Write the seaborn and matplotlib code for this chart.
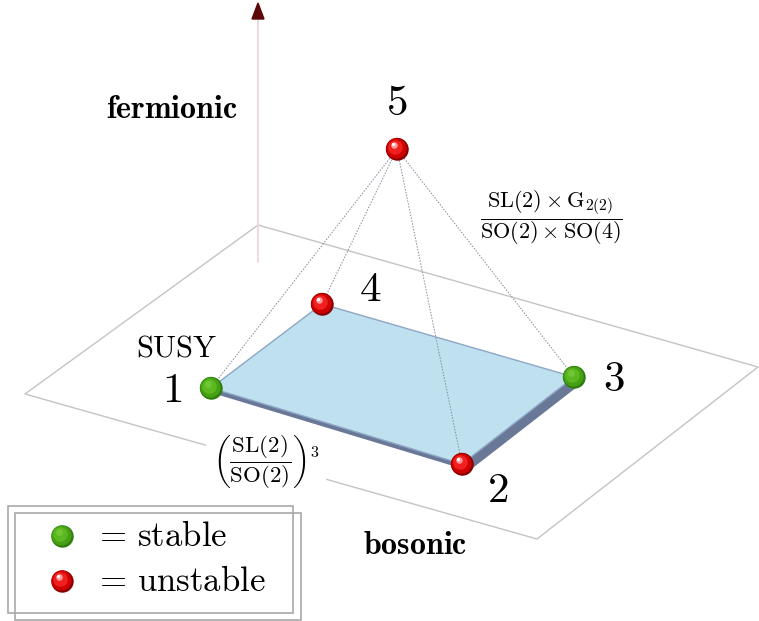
import pandas as pd
import matplotlib.pyplot as plt
import seaborn as sns
from matplotlib.patches import Polygon, Rectangle

# Diagram positions (pixel coordinates of the reference picture)
node_labels = ["1", "2", "3", "4", "5"]
node_x = [211, 462, 574, 322, 397]
node_y = [388, 464, 377, 304, 149]
node_state = ["stable", "unstable", "stable", "unstable", "unstable"]
label_x = [172, 498, 614, 370, 397]
label_y = [390, 490, 379, 289, 103]

# base plane (back, right, front, left)
plane_x = [258, 758, 537, 25]
plane_y = [225, 367, 539, 394]

# square of bosonic vacua: 1 -> 4 -> 3 -> 2
square_order = [0, 3, 2, 1]

legend_states = ["stable", "unstable"]
legend_y = [536, 581]

SHADES = {
    "stable": ["#2f7d0c", "#45a015", "#5cb81f", "#7fcf45"],
    "unstable": ["#8a0000", "#d00000", "#f02020", "#ff9a9a"],
}


def draw_ball(ax, x, y, state):
    c = SHADES[state]
    ax.scatter([x], [y], s=260, color=c[0], lw=0, zorder=6)
    ax.scatter([x - 0.7], [y - 0.8], s=210, color=c[1], lw=0, zorder=6)
    ax.scatter([x - 1.8], [y - 2.2], s=110, color=c[2], lw=0, zorder=6)
    if state == "unstable":
        ax.scatter([x - 3.5], [y - 4.5], s=22, color=c[3], lw=0, zorder=6)
        ax.scatter([x - 4.0], [y - 5.0], s=5, color="white", lw=0, zorder=6)
    else:
        ax.scatter([x - 3.0], [y - 4.0], s=25, color=c[3], lw=0, alpha=0.6, zorder=6)


def create_chart():
    sns.set_theme(style="white")
    plt.rcParams["mathtext.fontset"] = "cm"
    plt.rcParams["text.color"] = "black"

    fig = plt.figure(figsize=(7.59, 6.21), dpi=100)
    ax = fig.add_axes([0, 0, 1, 1])

    # base plane
    px = plane_x + [plane_x[0]]
    py = plane_y + [plane_y[0]]
    ax.plot(px, py, color="#c4c4c4", lw=1.0, zorder=1)

    # vertical fermionic axis
    ax.plot([plane_x[0], plane_x[0]], [262, 17], color="#ead6e4", lw=1.3, zorder=1)
    ax.add_patch(Polygon([[plane_x[0], 3], [plane_x[0] - 6, 19], [plane_x[0] + 6, 19]],
                         closed=True, color="#5a0808", zorder=2))

    # slab of the square (thickness)
    sq = [(node_x[i], node_y[i]) for i in square_order]
    front = [sq[0], sq[3], sq[2]]  # 1, 2, 3
    dx, dy = 7, 6
    slab = front + [(x + dx, y + dy) for x, y in reversed(front)]
    ax.add_patch(Polygon(slab, closed=True, color="#6a7898", zorder=3))
    ax.add_patch(Polygon(sq, closed=True, facecolor="#bfe0ee", edgecolor="#8ea6c6",
                         lw=1.0, zorder=4))

    # dotted lines from vacuum 5
    for i in range(4):
        ax.plot([node_x[4], node_x[i]], [node_y[4], node_y[i]], color="#7f8b9c",
                lw=0.7, ls=(0, (1.5, 1.5)), zorder=5)

    # balls
    df = pd.DataFrame({"x": node_x, "y": node_y, "state": node_state})
    sns.scatterplot(data=df, x="x", y="y", hue="state", s=260, linewidth=0,
                    palette={k: v[0] for k, v in SHADES.items()}, legend=False,
                    ax=ax, zorder=6)
    for x, y, st in zip(node_x, node_y, node_state):
        draw_ball(ax, x, y, st)

    # node labels
    for lab, lx, ly in zip(node_labels, label_x, label_y):
        ax.text(lx, ly, "$" + lab + "$", fontsize=31, ha="center", va="center", zorder=7)

    ax.text(177, 348, r"$\mathrm{SUSY}$", fontsize=22, ha="center", va="center")
    ax.text(172, 110, r"$\mathbf{fermionic}$", fontsize=23, ha="center", va="center")
    ax.text(415, 546, r"$\mathbf{bosonic}$", fontsize=23, ha="center", va="center")
    ax.text(551, 218,
            r"$\dfrac{\mathrm{SL}(2)\times \mathrm{G}_{2(2)}}{\mathrm{SO}(2)\times \mathrm{SO}(4)}$",
            fontsize=16, ha="center", va="center", zorder=7)
    # white box hides the plane edge behind the label, but stays under the slab
    ax.text(266, 462, r"$\left(\dfrac{\mathrm{SL}(2)}{\mathrm{SO}(2)}\right)^3$",
            fontsize=16.5, ha="center", va="center", zorder=2.5,
            bbox=dict(fc="white", ec="none", pad=5))

    # legend with double frame
    ax.add_patch(Rectangle((8, 506), 285, 107, fill=False, ec="#a8a8a8", lw=1.2, zorder=8))
    ax.add_patch(Rectangle((15, 513), 286, 107, fill=False, ec="#a8a8a8", lw=1.2, zorder=8))
    for st, ly in zip(legend_states, legend_y):
        draw_ball(ax, 62, ly, st)
        ax.text(93, ly, r"$=\,\mathrm{" + st + "}$", fontsize=25, ha="left", va="center", zorder=8)

    ax.set_xlim(0, 759)
    ax.set_ylim(621, 0)
    ax.axis("off")
    fig.savefig("out.png", dpi=100, facecolor="white")
    plt.close(fig)


if __name__ == "__main__":
    create_chart()
